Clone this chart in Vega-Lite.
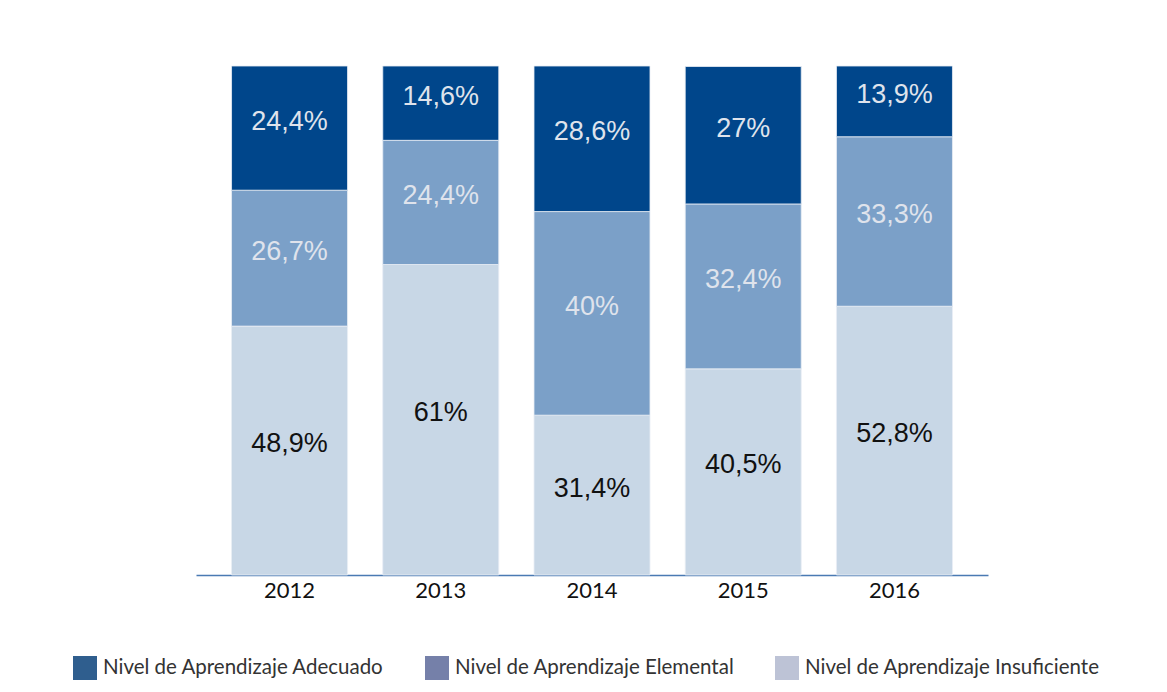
{
  "$schema": "https://vega.github.io/schema/vega-lite/v6.json",
  "width": 792,
  "height": 509,
  "autosize": {"type": "none"},
  "padding": {"left": 196, "top": 66, "right": 179, "bottom": 117},
  "background": "white",
  "config": {"view": {"stroke": null}},
  "data": {
    "values": [
      {"anio": "2012", "nivel": "Nivel de Aprendizaje Insuficiente", "valor": 48.9, "etiqueta": "48,9%"},
      {"anio": "2012", "nivel": "Nivel de Aprendizaje Elemental", "valor": 26.7, "etiqueta": "26,7%"},
      {"anio": "2012", "nivel": "Nivel de Aprendizaje Adecuado", "valor": 24.4, "etiqueta": "24,4%"},
      {"anio": "2013", "nivel": "Nivel de Aprendizaje Insuficiente", "valor": 61, "etiqueta": "61%"},
      {"anio": "2013", "nivel": "Nivel de Aprendizaje Elemental", "valor": 24.4, "etiqueta": "24,4%"},
      {"anio": "2013", "nivel": "Nivel de Aprendizaje Adecuado", "valor": 14.6, "etiqueta": "14,6%"},
      {"anio": "2014", "nivel": "Nivel de Aprendizaje Insuficiente", "valor": 31.4, "etiqueta": "31,4%"},
      {"anio": "2014", "nivel": "Nivel de Aprendizaje Elemental", "valor": 40, "etiqueta": "40%"},
      {"anio": "2014", "nivel": "Nivel de Aprendizaje Adecuado", "valor": 28.6, "etiqueta": "28,6%"},
      {"anio": "2015", "nivel": "Nivel de Aprendizaje Insuficiente", "valor": 40.5, "etiqueta": "40,5%"},
      {"anio": "2015", "nivel": "Nivel de Aprendizaje Elemental", "valor": 32.4, "etiqueta": "32,4%"},
      {"anio": "2015", "nivel": "Nivel de Aprendizaje Adecuado", "valor": 27, "etiqueta": "27%"},
      {"anio": "2016", "nivel": "Nivel de Aprendizaje Insuficiente", "valor": 52.8, "etiqueta": "52,8%"},
      {"anio": "2016", "nivel": "Nivel de Aprendizaje Elemental", "valor": 33.3, "etiqueta": "33,3%"},
      {"anio": "2016", "nivel": "Nivel de Aprendizaje Adecuado", "valor": 13.9, "etiqueta": "13,9%"}
    ]
  },
  "encoding": {
    "x": {
      "field": "anio",
      "type": "ordinal",
      "title": null,
      "scale": {"paddingInner": 0.233, "paddingOuter": 0.235},
      "axis": {
        "domainColor": "#4a7ab3",
        "domainWidth": 1.5,
        "ticks": false,
        "labelAngle": 0,
        "labelFont": "Lato",
        "labelFontSize": 22,
        "labelColor": "#111111",
        "labelPadding": 5
      }
    }
  },
  "layer": [
    {
      "mark": {"type": "bar", "opacity": 0},
      "encoding": {
        "y": {
          "field": "valor",
          "type": "quantitative",
          "stack": "zero",
          "scale": {"domain": [0, 100]},
          "axis": null
        },
        "order": {"field": "nivel", "sort": "descending"},
        "fill": {
          "field": "nivel",
          "type": "nominal",
          "scale": {
            "domain": ["Nivel de Aprendizaje Adecuado", "Nivel de Aprendizaje Elemental", "Nivel de Aprendizaje Insuficiente"],
            "range": ["#2f5e8e", "#7580a9", "#bdc3d6"]
          },
          "legend": {
            "title": null,
            "orient": "none",
            "direction": "horizontal",
            "legendX": -123,
            "legendY": 590,
            "symbolType": "square",
            "symbolSize": 576,
            "symbolStrokeWidth": 0,
            "symbolOpacity": 1,
            "labelFont": "Lato",
            "labelFontSize": 20.5,
            "labelColor": "#333333",
            "labelOffset": 6,
            "labelLimit": 400,
            "columnPadding": 40
          }
        }
      }
    },
    {
      "mark": {"type": "bar", "stroke": "#e8eef5", "strokeWidth": 0.8},
      "encoding": {
        "y": {
          "field": "valor",
          "type": "quantitative",
          "stack": "zero"
        },
        "order": {"field": "nivel", "sort": "descending"},
        "color": {
          "field": "nivel",
          "type": "nominal",
          "scale": {
            "domain": ["Nivel de Aprendizaje Adecuado", "Nivel de Aprendizaje Elemental", "Nivel de Aprendizaje Insuficiente"],
            "range": ["#00468b", "#7ba0c8", "#c8d7e6"]
          },
          "legend": null
        }
      }
    },
    {
      "mark": {"type": "text", "font": "Liberation Sans", "fontSize": 27, "dy": -6.5},
      "encoding": {
        "y": {
          "field": "valor",
          "type": "quantitative",
          "stack": "zero",
          "bandPosition": 0.5
        },
        "order": {"field": "nivel", "sort": "descending"},
        "text": {"field": "etiqueta"},
        "color": {
          "condition": {"test": "datum.nivel === 'Nivel de Aprendizaje Insuficiente'", "value": "#111111"},
          "value": "#dfe3ec"
        }
      }
    }
  ]
}
